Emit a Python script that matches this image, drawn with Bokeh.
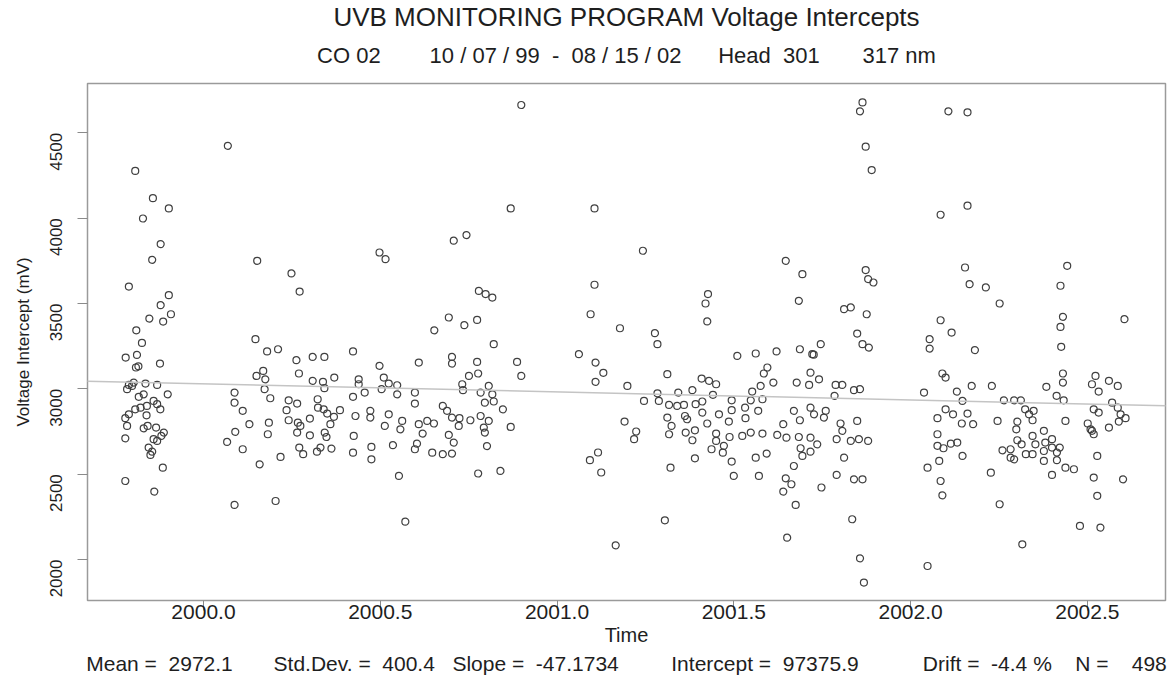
import math
from bokeh.plotting import figure
from bokeh.models import FixedTicker, Slope, Range1d, PrintfTickFormatter, Title
from bokeh.embed import file_html
from bokeh.resources import INLINE

# ---- data: (decimal year, voltage intercept mV) ----
obs_1999 = [
    (1999.807, 4277), (1999.857, 4117), (1999.902, 4057), (1999.829, 3998), (1999.879, 3848),
    (1999.855, 3756), (1999.789, 3599), (1999.902, 3549), (1999.879, 3490), (1999.908, 3437),
    (1999.847, 3412), (1999.886, 3394), (1999.810, 3343), (1999.826, 3269), (1999.780, 3183),
    (1999.812, 3199), (1999.816, 3132), (1999.877, 3148), (1999.809, 3125), (1999.789, 3023),
    (1999.803, 3037), (1999.836, 3031), (1999.869, 3023), (1999.784, 2998), (1999.798, 3017),
    (1999.899, 2968), (1999.817, 2953), (1999.831, 2968), (1999.859, 2929), (1999.869, 2910),
    (1999.878, 2880), (1999.789, 2851), (1999.807, 2880), (1999.822, 2890), (1999.840, 2900),
    (1999.839, 2845), (1999.779, 2828), (1999.784, 2783), (1999.831, 2769), (1999.842, 2783),
    (1999.866, 2773), (1999.888, 2744), (1999.869, 2695), (1999.859, 2705), (1999.779, 2710),
    (1999.845, 2656), (1999.855, 2632), (1999.850, 2613), (1999.885, 2538), (1999.779, 2460),
    (1999.861, 2398), (1999.881, 2724),
]
obs_2000a = [
    (2000.069, 4424), (2000.152, 3750), (2000.249, 3676), (2000.272, 3570), (2000.147, 3291),
    (2000.180, 3219), (2000.211, 3232), (2000.263, 3168), (2000.309, 3187), (2000.342, 3187),
    (2000.423, 3219), (2000.169, 3105), (2000.150, 3076), (2000.175, 3056), (2000.270, 3090),
    (2000.309, 3047), (2000.338, 3041), (2000.370, 3066), (2000.342, 3004), (2000.173, 2998),
    (2000.439, 3056), (2000.439, 3027), (2000.088, 2978), (2000.088, 2919), (2000.189, 2945),
    (2000.241, 2933), (2000.265, 2914), (2000.323, 2939), (2000.235, 2875), (2000.324, 2890),
    (2000.340, 2880), (2000.350, 2855), (2000.386, 2875), (2000.423, 2953), (2000.430, 2841),
    (2000.111, 2871), (2000.130, 2793), (2000.185, 2802), (2000.241, 2816), (2000.267, 2802),
    (2000.274, 2783), (2000.301, 2826), (2000.369, 2836), (2000.359, 2793), (2000.090, 2748),
    (2000.182, 2734), (2000.265, 2744), (2000.301, 2728), (2000.343, 2744), (2000.348, 2718),
    (2000.425, 2724), (2000.067, 2689), (2000.111, 2646), (2000.271, 2656), (2000.282, 2617),
    (2000.321, 2632), (2000.331, 2656), (2000.362, 2650), (2000.423, 2626), (2000.218, 2601),
    (2000.159, 2558), (2000.088, 2320), (2000.204, 2343),
]
obs_2000b = [
    (2000.498, 3799), (2000.515, 3760), (2000.708, 3868), (2000.744, 3901), (2000.779, 3574),
    (2000.798, 3555), (2000.817, 3535), (2000.694, 3418), (2000.738, 3373), (2000.774, 3404),
    (2000.653, 3343), (2000.821, 3262), (2000.498, 3135), (2000.609, 3154), (2000.703, 3187),
    (2000.703, 3148), (2000.774, 3158), (2000.751, 3076), (2000.777, 3090), (2000.510, 3066),
    (2000.524, 3031), (2000.548, 3021), (2000.504, 2998), (2000.456, 2978), (2000.732, 3027),
    (2000.807, 3017), (2000.548, 2968), (2000.598, 2978), (2000.734, 2992), (2000.784, 2978),
    (2000.817, 2968), (2000.598, 2914), (2000.796, 2919), (2000.472, 2871), (2000.472, 2832),
    (2000.524, 2851), (2000.513, 2783), (2000.562, 2812), (2000.557, 2763), (2000.609, 2793),
    (2000.633, 2812), (2000.652, 2797), (2000.677, 2900), (2000.689, 2871), (2000.703, 2832),
    (2000.724, 2828), (2000.755, 2816), (2000.722, 2783), (2000.784, 2841), (2000.807, 2812),
    (2000.793, 2773), (2000.796, 2744), (2000.620, 2738), (2000.694, 2730), (2000.708, 2685),
    (2000.475, 2660), (2000.536, 2670), (2000.604, 2679), (2000.598, 2646), (2000.647, 2626),
    (2000.677, 2617), (2000.703, 2621), (2000.802, 2665), (2000.475, 2587), (2000.553, 2490),
    (2000.777, 2504), (2000.571, 2222),
]
obs_2001a = [
    (2000.899, 4663), (2000.869, 4057), (2001.106, 4057), (2001.106, 3610), (2001.095, 3437),
    (2001.178, 3355), (2001.062, 3203), (2000.887, 3158), (2001.109, 3154), (2001.131, 3094),
    (2000.899, 3076), (2001.109, 3041), (2001.199, 3017), (2000.821, 2926), (2000.847, 2880),
    (2000.869, 2777), (2001.191, 2808), (2001.116, 2627), (2001.093, 2582), (2001.125, 2510),
    (2000.840, 2519), (2001.166, 2083),
]
obs_2001b = [
    (2001.243, 3809), (2001.427, 3555), (2001.420, 3500), (2001.425, 3395), (2001.277, 3326),
    (2001.284, 3262), (2001.510, 3193), (2001.562, 3207), (2001.312, 3086), (2001.409, 3060),
    (2001.430, 3047), (2001.450, 3027), (2001.576, 3017), (2001.284, 2974), (2001.343, 2978),
    (2001.383, 2992), (2001.441, 2965), (2001.552, 2984), (2001.246, 2929), (2001.288, 2929),
    (2001.317, 2906), (2001.340, 2900), (2001.359, 2906), (2001.392, 2910), (2001.411, 2926),
    (2001.494, 2933), (2001.548, 2933), (2001.581, 2939), (2001.312, 2832), (2001.362, 2841),
    (2001.411, 2861), (2001.458, 2851), (2001.494, 2875), (2001.532, 2890), (2001.533, 2828),
    (2001.569, 2871), (2001.324, 2783), (2001.368, 2822), (2001.425, 2797), (2001.486, 2808),
    (2001.224, 2750), (2001.218, 2705), (2001.317, 2734), (2001.364, 2744), (2001.390, 2757),
    (2001.383, 2699), (2001.450, 2738), (2001.450, 2695), (2001.488, 2718), (2001.524, 2724),
    (2001.548, 2744), (2001.581, 2738), (2001.472, 2666), (2001.437, 2646), (2001.469, 2626),
    (2001.494, 2574), (2001.390, 2593), (2001.562, 2597), (2001.321, 2538), (2001.500, 2490),
    (2001.571, 2490), (2001.305, 2230),
]
obs_2001c = [
    (2001.864, 4678), (2001.857, 4626), (2001.873, 4419), (2001.890, 4282), (2001.647, 3750),
    (2001.694, 3672), (2001.684, 3516), (2001.812, 3467), (2001.831, 3477), (2001.873, 3696),
    (2001.880, 3643), (2001.895, 3623), (2001.876, 3437), (2001.849, 3324), (2001.864, 3262),
    (2001.882, 3242), (2001.746, 3262), (2001.621, 3219), (2001.687, 3232), (2001.722, 3203),
    (2001.726, 3200), (2001.595, 3125), (2001.585, 3090), (2001.612, 3037), (2001.678, 3037),
    (2001.717, 3095), (2001.741, 3056), (2001.713, 3023), (2001.788, 3023), (2001.807, 3023),
    (2001.840, 2992), (2001.857, 2998), (2001.785, 2959), (2001.670, 2871), (2001.717, 2890),
    (2001.727, 2851), (2001.760, 2871), (2001.755, 2832), (2001.640, 2793), (2001.687, 2816),
    (2001.802, 2797), (2001.807, 2754), (2001.849, 2812), (2001.623, 2730), (2001.649, 2714),
    (2001.684, 2718), (2001.717, 2714), (2001.736, 2675), (2001.689, 2652), (2001.717, 2632),
    (2001.694, 2607), (2001.791, 2705), (2001.831, 2695), (2001.854, 2705), (2001.880, 2695),
    (2001.593, 2621), (2001.812, 2597), (2001.670, 2548), (2001.647, 2476), (2001.663, 2441),
    (2001.640, 2398), (2001.748, 2422), (2001.791, 2496), (2001.840, 2470), (2001.864, 2470),
    (2001.675, 2320), (2001.835, 2236), (2001.651, 2128), (2001.857, 2007), (2001.868, 1865),
]
obs_2002a = [
    (2002.107, 4626), (2002.161, 4620), (2002.161, 4073), (2002.085, 4020), (2002.154, 3711),
    (2002.167, 3613), (2002.213, 3594), (2002.252, 3500), (2002.085, 3402), (2002.116, 3330),
    (2002.054, 3291), (2002.054, 3236), (2002.182, 3227), (2002.090, 3090), (2002.099, 3066),
    (2002.173, 3017), (2002.230, 3017), (2002.038, 2978), (2002.131, 2984), (2002.147, 2929),
    (2002.264, 2933), (2002.293, 2933), (2002.312, 2933), (2002.324, 2880), (2002.335, 2851),
    (2002.345, 2816), (2002.099, 2880), (2002.120, 2851), (2002.161, 2855), (2002.076, 2828),
    (2002.145, 2797), (2002.177, 2793), (2002.246, 2812), (2002.302, 2808), (2002.299, 2763),
    (2002.076, 2734), (2002.345, 2724), (2002.076, 2666), (2002.093, 2652), (2002.114, 2679),
    (2002.132, 2685), (2002.147, 2607), (2002.260, 2640), (2002.283, 2646), (2002.302, 2699),
    (2002.314, 2675), (2002.283, 2597), (2002.293, 2587), (2002.326, 2617), (2002.345, 2617),
    (2002.081, 2578), (2002.048, 2538), (2002.227, 2509), (2002.085, 2460), (2002.090, 2376),
    (2002.252, 2324), (2002.316, 2089), (2002.048, 1962),
]
obs_2002b = [
    (2002.443, 3721), (2002.424, 3604), (2002.431, 3422), (2002.424, 3363), (2002.426, 3246),
    (2002.605, 3408), (2002.431, 3090), (2002.431, 3037), (2002.384, 3012), (2002.523, 3076),
    (2002.513, 3027), (2002.532, 2984), (2002.561, 3047), (2002.586, 3017), (2002.413, 2959),
    (2002.433, 2933), (2002.518, 2880), (2002.532, 2861), (2002.570, 2919), (2002.586, 2890),
    (2002.594, 2851), (2002.608, 2828), (2002.589, 2808), (2002.348, 2871), (2002.438, 2812),
    (2002.501, 2797), (2002.509, 2763), (2002.518, 2734), (2002.513, 2754), (2002.561, 2773),
    (2002.377, 2754), (2002.400, 2705), (2002.353, 2675), (2002.381, 2685), (2002.400, 2656),
    (2002.422, 2656), (2002.377, 2636), (2002.414, 2627), (2002.377, 2578), (2002.414, 2582),
    (2002.438, 2538), (2002.462, 2529), (2002.400, 2496), (2002.528, 2607), (2002.518, 2480),
    (2002.601, 2470), (2002.528, 2373), (2002.479, 2197), (2002.537, 2187),
]

x_ticks = [2000.0, 2000.5, 2001.0, 2001.5, 2002.0, 2002.5]
y_ticks = [2000, 2500, 3000, 3500, 4000, 4500]

stat_mean = "2972.1"
stat_sd = "400.4"
stat_slope = -47.1734
stat_intercept = 97375.9
stat_drift = "-4.4"
stat_n = "498"

title_text = "UVB MONITORING PROGRAM Voltage Intercepts"
sub_parts = ["CO 02", "10 / 07 / 99  -  08 / 15 / 02", "Head  301", "317 nm"]

segments = [obs_1999, obs_2000a, obs_2000b, obs_2001a, obs_2001b, obs_2001c, obs_2002a, obs_2002b]
time_yr = [t for seg in segments for t, _ in seg]
volt_mv = [v for seg in segments for _, v in seg]

FONT = "Liberation Sans, Arial, sans-serif"
TXT = "#1e1e1e"
NB = "\u00a0"


def keep_spaces(s):
    return s.replace(" ", NB)


p = figure(width=1171, height=679, output_backend="svg", toolbar_location=None,
           title_location=None,
           x_range=Range1d(1999.672, 2002.721), y_range=Range1d(1760, 4789),
           min_border_left=87, min_border_right=6, min_border_top=83, min_border_bottom=79)
p.background_fill_color = "white"
p.border_fill_color = "white"
p.xgrid.visible = False
p.ygrid.visible = False
p.outline_line_color = "#9a9a9a"
p.outline_line_width = 1.5

for ax in (p.xaxis[0], p.yaxis[0]):
    ax.axis_line_color = None
    ax.major_tick_out = 10
    ax.major_tick_in = 0
    ax.major_tick_line_color = "#8a8a8a"
    ax.minor_tick_line_color = None
    ax.major_label_text_color = TXT
    ax.axis_label_text_color = TXT
    ax.axis_label_text_font_style = "normal"
    ax.major_label_text_font = FONT
    ax.axis_label_text_font = FONT

p.xaxis.ticker = FixedTicker(ticks=x_ticks)
p.xaxis.formatter = PrintfTickFormatter(format="%.1f")
p.xaxis.major_label_text_font_size = "21px"
p.xaxis.major_label_standoff = -6
p.xaxis.axis_label = "Time"
p.xaxis.axis_label_text_font_size = "20px"
p.xaxis.axis_label_standoff = 2

p.yaxis.ticker = FixedTicker(ticks=y_ticks)
p.yaxis.major_label_orientation = math.pi / 2
p.yaxis.major_label_text_font_size = "17px"
p.yaxis.major_label_standoff = 21
p.yaxis.axis_label = "Voltage Intercept (mV)"
p.yaxis.axis_label_text_font_size = "17px"
p.yaxis.axis_label_standoff = 9

p.scatter(time_yr, volt_mv, marker="circle", size=7, fill_color=None,
          line_color="#404040", line_width=1.2)

p.add_layout(Slope(gradient=stat_slope, y_intercept=stat_intercept,
                   line_color="#c4c4c4", line_width=1.5))

# subtitle (closest to frame) then main title
subtitle = (keep_spaces(sub_parts[0]) + NB * 8 + keep_spaces(sub_parts[1]) + NB * 6 +
            keep_spaces(sub_parts[2]) + NB * 7 + keep_spaces(sub_parts[3]))
p.add_layout(Title(text=subtitle, align="center", text_font=FONT, text_font_size="22px",
                   text_font_style="normal", text_color=TXT, standoff=31), "above")
p.add_layout(Title(text=title_text, align="center", text_font=FONT, text_font_size="26px",
                   text_font_style="normal", text_color=TXT, standoff=-12), "above")

stats_line = (keep_spaces("Mean =  " + stat_mean) + NB * 7 +
              keep_spaces("Std.Dev. =  " + stat_sd) + NB * 3 +
              keep_spaces("Slope =  " + f"{stat_slope:.4f}") + NB * 9 +
              keep_spaces("Intercept =  " + f"{stat_intercept:.1f}") + NB * 11 +
              keep_spaces("Drift =  " + stat_drift + " %") + NB * 4 +
              keep_spaces("N =    " + stat_n))
p.add_layout(Title(text=stats_line, align="center", text_font=FONT, text_font_size="21px",
                   text_font_style="normal", text_color=TXT, standoff=3), "below")

open("out.html", "w").write(file_html(p, INLINE))
